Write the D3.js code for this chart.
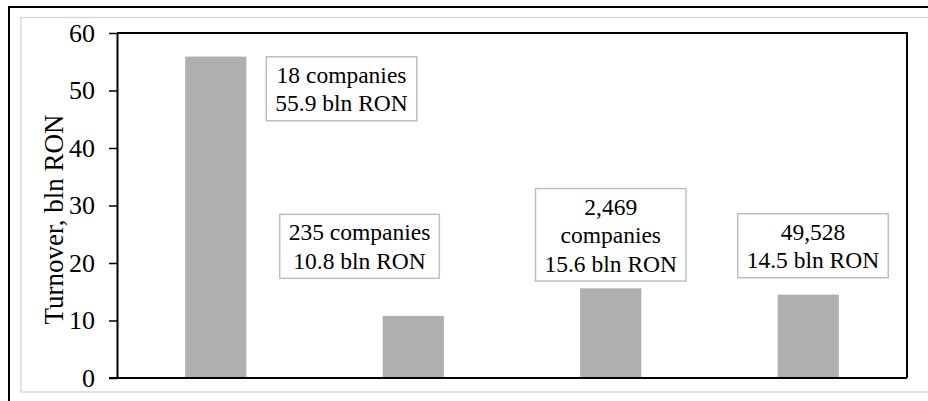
<!DOCTYPE html>
<html>
<head>
<meta charset="utf-8">
<script src="https://cdn.jsdelivr.net/npm/d3@7"></script>
<style>
  html, body { margin: 0; padding: 0; background: #fff; }
  svg { display: block; }
</style>
</head>
<body>
<svg id="chart" width="928" height="401"></svg>
<script>
// ---- data ----
const categories = ["Large", "Medium", "Small", "Micro"];
const values = [55.9, 10.8, 15.6, 14.5];
const labelLines = [
  ["18 companies", "55.9 bln RON"],
  ["235 companies", "10.8 bln RON"],
  ["2,469", "companies", "15.6 bln RON"],
  ["49,528", "14.5 bln RON"]
];
const yTicks = [0, 10, 20, 30, 40, 50, 60];
const yTitle = "Turnover, bln RON";

// ---- layout (label anchors: offset in bands from bar centre, value at box centre) ----
const labelOffsetBands = [0.637, -0.272, 0, 0.024];
const labelCenterValue = [50.3, 22.9, 24.9, 23.0];

const FONT = "'Liberation Serif', 'Times New Roman', Times, serif";
const svg = d3.select("#chart");
const plot = { left: 117, right: 907, top: 33, bottom: 378 };

// frames
svg.append("rect").attr("x", 9).attr("y", 7).attr("width", 1000).attr("height", 500)
  .attr("fill", "none").attr("stroke", "#000").attr("stroke-width", 2);
svg.append("rect").attr("x", 21).attr("y", 17.5).attr("width", 1000).attr("height", 374.5)
  .attr("fill", "none").attr("stroke", "#d9d9d9").attr("stroke-width", 1.5);

const x = d3.scaleBand().domain(categories).range([plot.left, plot.right])
  .paddingInner(0.69).paddingOuter(0.345);
const y = d3.scaleLinear().domain([0, 60]).range([plot.bottom, plot.top]);

// bars
svg.append("g").selectAll("rect").data(values).join("rect")
  .attr("x", (d, i) => x(categories[i]))
  .attr("width", x.bandwidth())
  .attr("y", d => y(d))
  .attr("height", d => y(0) - y(d))
  .attr("fill", "#afafaf");

// plot border (top, right)
svg.append("path")
  .attr("d", `M${plot.left},${plot.top}H${plot.right}V${plot.bottom}`)
  .attr("fill", "none").attr("stroke", "#000").attr("stroke-width", 2);

// y axis
const yAxis = svg.append("g").attr("transform", `translate(${plot.left},0)`)
  .call(d3.axisLeft(y).tickValues(yTicks).tickSize(8).tickPadding(14).tickSizeOuter(0));
yAxis.attr("font-family", FONT).attr("font-size", 26);
yAxis.select(".domain").attr("stroke", "#000").attr("stroke-width", 2);
yAxis.selectAll(".tick line").attr("stroke", "#000").attr("stroke-width", 1.5);
yAxis.selectAll(".tick text").style("font-family", FONT).style("font-size", "26px").attr("fill", "#000");

// x axis line
svg.append("g").attr("transform", `translate(0,${plot.bottom})`)
  .call(d3.axisBottom(x).tickSize(0).tickFormat(""))
  .call(g => g.select(".domain").attr("stroke", "#000").attr("stroke-width", 2)
    .attr("d", `M${plot.left - 8},0H${plot.right}`));

// y title
svg.append("text")
  .attr("transform", `translate(63,${(plot.top + plot.bottom) / 2 + 14}) rotate(-90)`)
  .attr("text-anchor", "middle")
  .style("font-family", FONT).style("font-size", "27px")
  .attr("fill", "#000")
  .text(yTitle);

// labels
const fs = 23.5, lh = 28.5, padX = 9, padY = 3.5;
labelLines.forEach((lines, i) => {
  const cx = x(categories[i]) + x.bandwidth() / 2 + labelOffsetBands[i] * x.step();
  const cy = y(labelCenterValue[i]);
  const g = svg.append("g");
  const box = g.append("rect");
  const t = g.selectAll("text").data(lines).join("text")
    .attr("x", cx)
    .attr("y", (d, j) => cy + (j - (lines.length - 1) / 2) * lh + 8.3)
    .attr("text-anchor", "middle")
    .style("font-family", FONT).style("font-size", fs + "px")
    .attr("fill", "#000")
    .text(d => d);
  let maxW = 0;
  t.each(function () { maxW = Math.max(maxW, this.getComputedTextLength()); });
  const bw = maxW + 2 * padX, bh = lines.length * lh + 2 * padY;
  box.attr("x", cx - bw / 2).attr("y", cy - bh / 2).attr("width", bw).attr("height", bh)
    .attr("fill", "#fff").attr("stroke", "#bfbfbf").attr("stroke-width", 1.5);
});
</script>
</body>
</html>
